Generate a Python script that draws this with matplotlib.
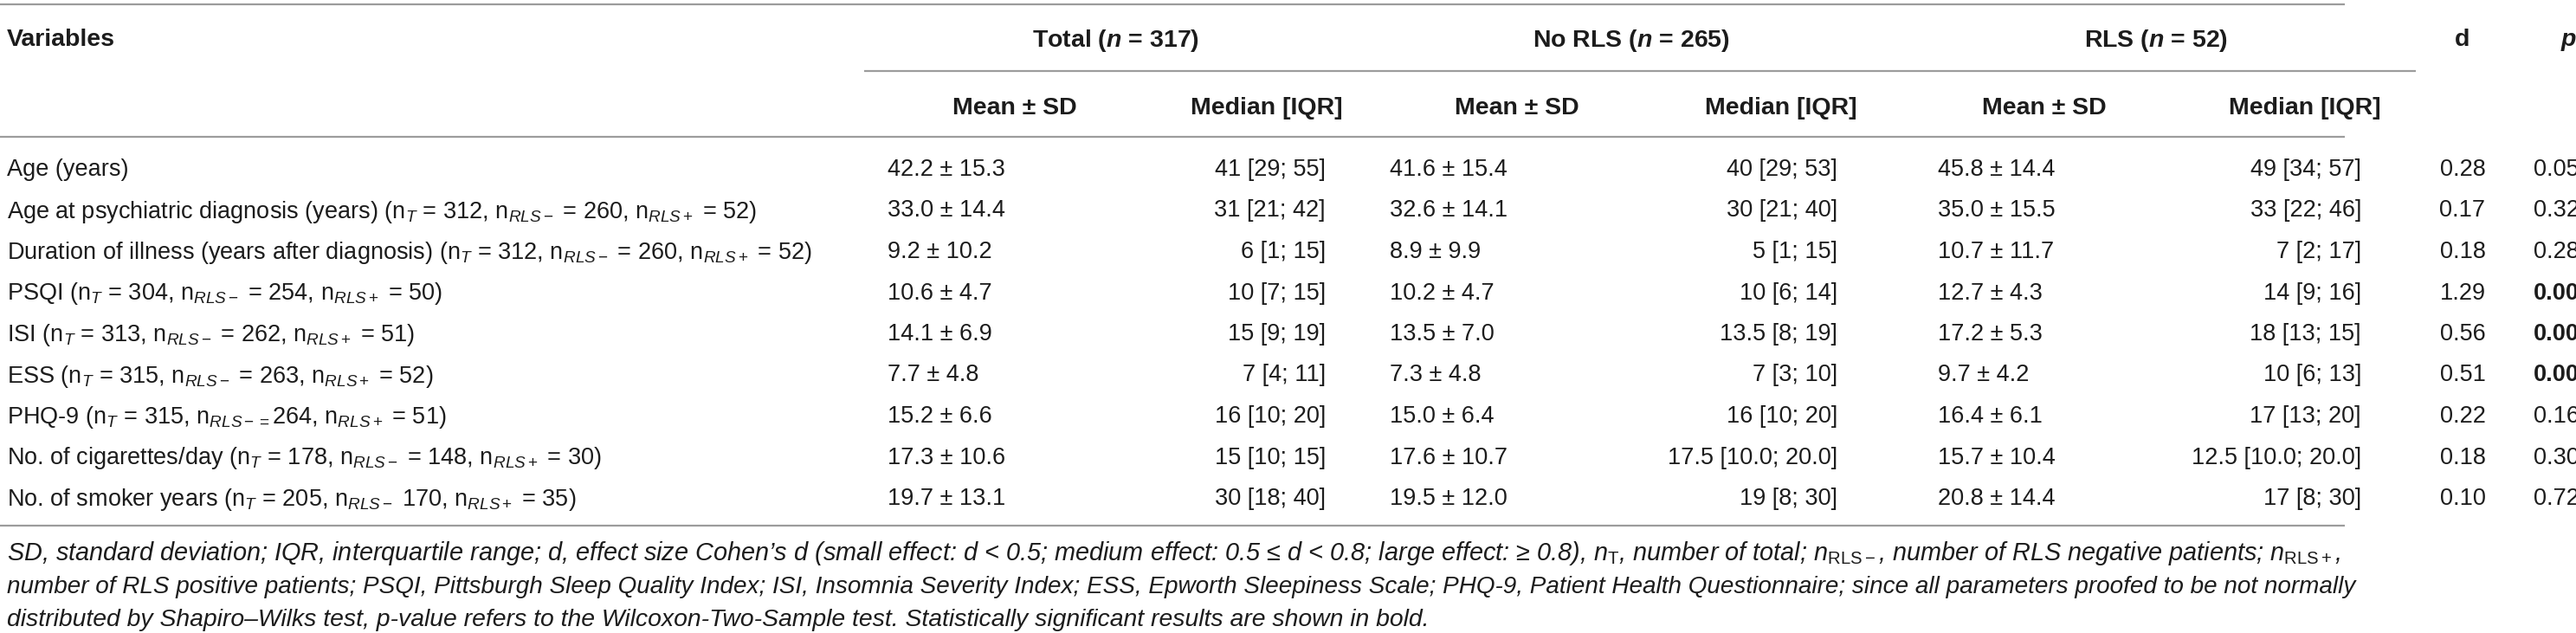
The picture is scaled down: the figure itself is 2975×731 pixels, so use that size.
import matplotlib
matplotlib.use("Agg")
import matplotlib.pyplot as plt

plt.rcParams['font.family'] = ['Liberation Sans', 'DejaVu Sans']
plt.rcParams['mathtext.fontset'] = 'custom'
plt.rcParams['mathtext.rm'] = 'Liberation Sans'
plt.rcParams['mathtext.it'] = 'Liberation Sans:italic'
plt.rcParams['mathtext.bf'] = 'Liberation Sans:bold'
plt.rcParams['mathtext.bfit'] = 'Liberation Sans:italic:bold'

# table content
variables = [
    "Age (years)",
    r"Age at psychiatric diagnosis (years) (n$_{T}$ = 312, n$_{RLS-}$ = 260, n$_{RLS+}$ = 52)",
    r"Duration of illness (years after diagnosis) (n$_{T}$ = 312, n$_{RLS-}$ = 260, n$_{RLS+}$ = 52)",
    r"PSQI (n$_{T}$ = 304, n$_{RLS-}$ = 254, n$_{RLS+}$ = 50)",
    r"ISI (n$_{T}$ = 313, n$_{RLS-}$ = 262, n$_{RLS+}$ = 51)",
    r"ESS (n$_{T}$ = 315, n$_{RLS-}$ = 263, n$_{RLS+}$ = 52)",
    r"PHQ-9 (n$_{T}$ = 315, n$_{RLS-=}$264, n$_{RLS+}$ = 51)",
    r"No. of cigarettes/day (n$_{T}$ = 178, n$_{RLS-}$ = 148, n$_{RLS+}$ = 30)",
    r"No. of smoker years (n$_{T}$ = 205, n$_{RLS-}$ 170, n$_{RLS+}$ = 35)",
]
total_mean = [42.2, 33.0, 9.2, 10.6, 14.1, 7.7, 15.2, 17.3, 19.7]
total_sd = [15.3, 14.4, 10.2, 4.7, 6.9, 4.8, 6.6, 10.6, 13.1]
total_median = ["41 [29; 55]", "31 [21; 42]", "6 [1; 15]", "10 [7; 15]", "15 [9; 19]",
                "7 [4; 11]", "16 [10; 20]", "15 [10; 15]", "30 [18; 40]"]
norls_mean = [41.6, 32.6, 8.9, 10.2, 13.5, 7.3, 15.0, 17.6, 19.5]
norls_sd = [15.4, 14.1, 9.9, 4.7, 7.0, 4.8, 6.4, 10.7, 12.0]
norls_median = ["40 [29; 53]", "30 [21; 40]", "5 [1; 15]", "10 [6; 14]", "13.5 [8; 19]",
                "7 [3; 10]", "16 [10; 20]", "17.5 [10.0; 20.0]", "19 [8; 30]"]
rls_mean = [45.8, 35.0, 10.7, 12.7, 17.2, 9.7, 16.4, 15.7, 20.8]
rls_sd = [14.4, 15.5, 11.7, 4.3, 5.3, 4.2, 6.1, 10.4, 14.4]
rls_median = ["49 [34; 57]", "33 [22; 46]", "7 [2; 17]", "14 [9; 16]", "18 [13; 15]",
              "10 [6; 13]", "17 [13; 20]", "12.5 [10.0; 20.0]", "17 [8; 30]"]
cohen_d = [0.28, 0.17, 0.18, 1.29, 0.56, 0.51, 0.22, 0.18, 0.10]
p_values = ["0.05", "0.32", "0.28", "0.00", "0.00", "0.00", "0.16", "0.30", "0.72"]
p_bold = [False, False, False, True, True, True, False, False, False]

groups = [r"Total ($\mathbfit{n}$ = 317)", r"No RLS ($\mathbfit{n}$ = 265)", r"RLS ($\mathbfit{n}$ = 52)"]
subheads = ["Mean ± SD", "Median [IQR]"]

footnote = [
    r"SD, standard deviation; IQR, interquartile range; d, effect size Cohen’s d (small effect: d < 0.5; medium effect: 0.5 ≤ d < 0.8; large effect: ≥ 0.8), $n_{\mathrm{T}}$, number of total; $n_{\mathrm{RLS-}}$, number of RLS negative patients; $n_{\mathrm{RLS+}}$,",
    "number of RLS positive patients; PSQI, Pittsburgh Sleep Quality Index; ISI, Insomnia Severity Index; ESS, Epworth Sleepiness Scale; PHQ-9, Patient Health Questionnaire; since all parameters proofed to be not normally",
    "distributed by Shapiro–Wilks test, p-value refers to the Wilcoxon-Two-Sample test. Statistically significant results are shown in bold.",
]

W, H = 2975, 731
fig = plt.figure(figsize=(W / 100, H / 100), dpi=100)
ax = fig.add_axes([0, 0, 1, 1])
ax.set_xlim(0, W)
ax.set_ylim(H, 0)
ax.axis('off')

txt_c = '#1c1c1c'
line_c = '#9c9c9c'
fs_body = 19.5
fs_head = 20.5

# column anchors (pixels)
x_lab = 8
x_mean = [1025, 1605, 2238]      # left aligned
x_med = [1531, 2122, 2727]       # right aligned
x_sub_c = [1172, 1463, 1752, 2057, 2361, 2662]
x_grp_c = [1289, 1884, 2490]
x_d = 2844
x_p = 2926

y_top, y_grp_line, y_sub_line, y_bot = 5, 82, 158, 607
y_h1, y_h2 = 43, 122
y_row0, dy = 193, 47.5

# rules
for y in (y_top, y_sub_line, y_bot):
    ax.plot([0, 2708], [y, y], color=line_c, lw=1.6, solid_capstyle='butt')
ax.plot([998, 2790], [y_grp_line, y_grp_line], color=line_c, lw=1.6, solid_capstyle='butt')

# header
hkw = dict(fontsize=fs_head, fontweight='bold', color=txt_c, va='center_baseline')
ax.text(x_lab, y_h1, "Variables", ha='left', **hkw)
for xc, g in zip(x_grp_c, groups):
    ax.text(xc, y_h1, g, ha='center', **hkw)
ax.text(x_d, y_h1, "d", ha='center', **hkw)
ax.text(2958, y_h1, "p", ha='left', style='italic', **hkw)
for i, xc in enumerate(x_sub_c):
    ax.text(xc, y_h2, subheads[i % 2], ha='center', **hkw)

# body
bkw = dict(fontsize=fs_body, color=txt_c, va='center_baseline')
means = [(total_mean, total_sd), (norls_mean, norls_sd), (rls_mean, rls_sd)]
medians = [total_median, norls_median, rls_median]
for i, lab in enumerate(variables):
    y = y_row0 + i * dy
    ax.text(x_lab, y, lab, ha='left', **bkw)
    for k in range(3):
        m, s = means[k]
        ax.text(x_mean[k], y, f"{m[i]:.1f} ± {s[i]:.1f}", ha='left', **bkw)
        ax.text(x_med[k], y, medians[k][i], ha='right', **bkw)
    ax.text(x_d, y, f"{cohen_d[i]:.2f}", ha='center', **bkw)
    ax.text(x_p, y, p_values[i], ha='left',
            fontweight='bold' if p_bold[i] else 'normal', **bkw)

# footnote, each line sized to the width it has in the original
fn_y = [635, 675, 713]
fn_end = [2704, 2713, 1650]
fn_txt = [ax.text(x_lab, y, s, ha='left', va='center_baseline', style='italic',
                  fontsize=18, color=txt_c) for y, s in zip(fn_y, footnote)]
fig.canvas.draw()
r = fig.canvas.get_renderer()
for t, xe in zip(fn_txt, fn_end):
    bb = t.get_window_extent(r)
    t.set_fontsize(18 * (xe - x_lab) / bb.width)

fig.savefig("out.png", dpi=100, facecolor='white')
